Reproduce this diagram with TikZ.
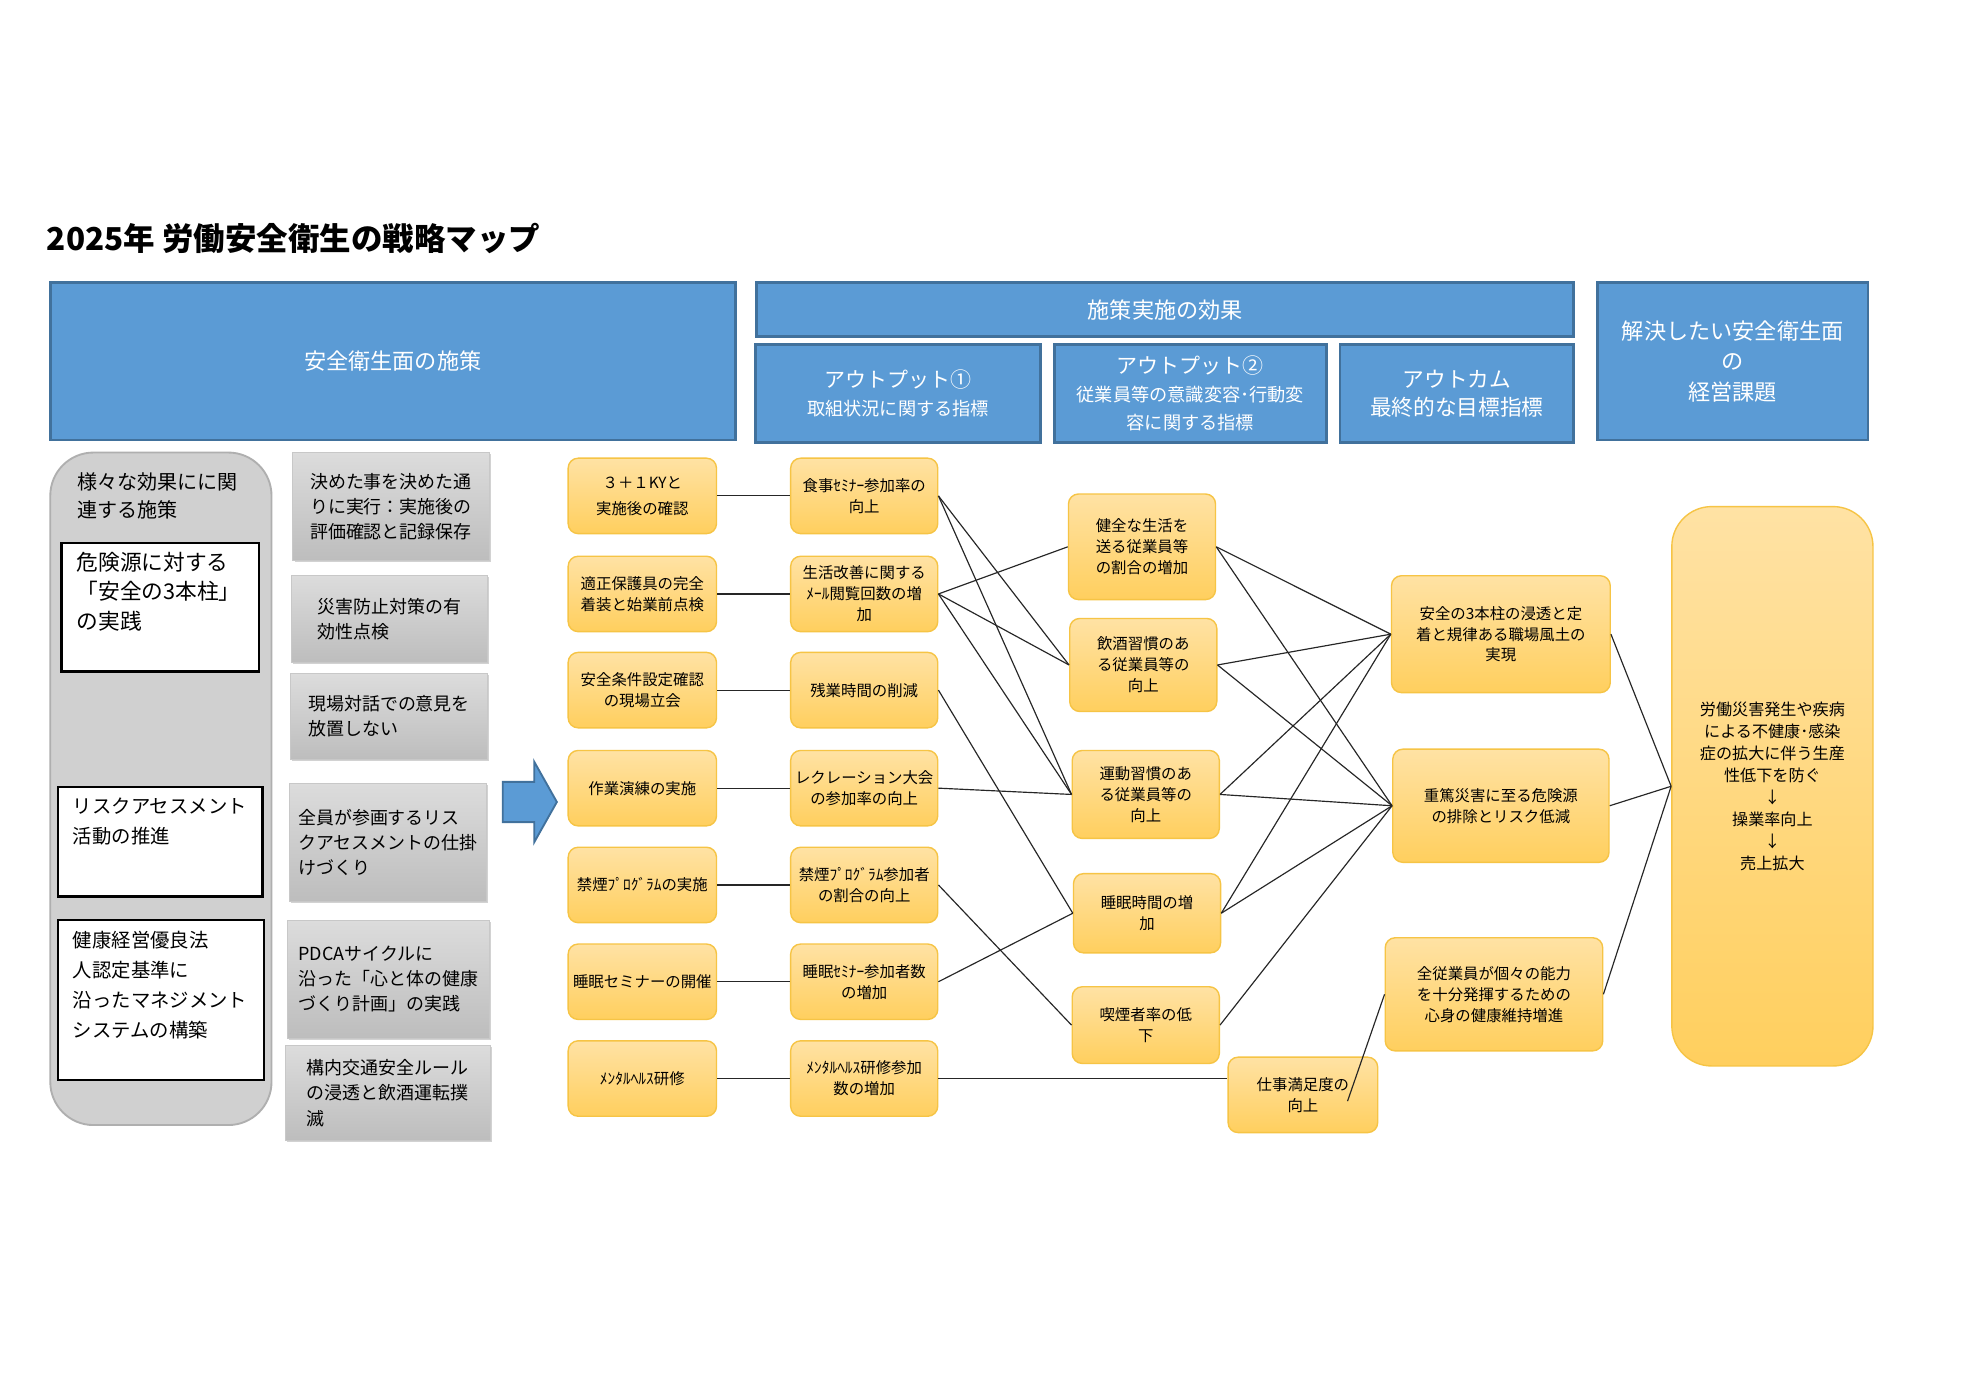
\documentclass[tikz,border=0pt]{standalone}
\usepackage{fontspec}
\setmainfont{Noto Sans CJK JP}
\usetikzlibrary{shadows}

\newlength\px
\setlength\px{0.018941cm}

\definecolor{hblue}{HTML}{5B9BD5}
\definecolor{hedge}{HTML}{41719C}
\definecolor{otop}{HTML}{FFE2A4}
\definecolor{obot}{HTML}{FFCF5E}
\definecolor{oedge}{HTML}{F6C445}
\definecolor{gtop}{HTML}{DCDCDC}
\definecolor{gbot}{HTML}{BDBDBD}
\definecolor{gedge}{HTML}{C8C8C8}
\definecolor{pfill}{HTML}{D0D0D0}
\definecolor{pedge}{HTML}{AFAFAF}
\definecolor{linkc}{HTML}{262626}

\newcommand\subfont{\fontsize{7.8}{10.8}\selectfont}

\tikzset{
  sz/.style 2 args={minimum width=#1*\px, minimum height=#2*\px},
  hbox/.style={draw=hedge, line width=1.2pt, fill=hblue, text=white, align=center, inner sep=1pt,
    font=\fontsize{9.5}{12}\selectfont},
  obox/.style={draw=oedge, line width=0.6pt, top color=otop, bottom color=obot, rounded corners=0.15cm,
    align=center, inner sep=1pt, font=\fontsize{6.6}{9}\selectfont},
  gbox/.style={draw=gedge, top color=gtop, bottom color=gbot, align=left, inner sep=1pt,
    drop shadow={opacity=0.35, shadow xshift=0.7pt, shadow yshift=-0.7pt},
    font=\fontsize{7.7}{10.8}\selectfont},
  wbox/.style={draw=black, line width=1.1pt, fill=white, inner sep=0pt},
  link/.style={draw=linkc, line width=0.5pt},
}

\begin{document}
\begin{tikzpicture}[x=0.018941cm, y=-0.018941cm]
  \fill[white] (0,0) rectangle (1568,1109);
  \useasboundingbox (0,0) rectangle (1568,1109);

  \node[anchor=west, inner sep=0pt, font=\fontsize{13.5}{16}\selectfont\bfseries] (title) at (37,190)
    {2025年 労働安全衛生の戦略マップ};

  % headers
  \node[hbox, sz={545}{125}] (hPolicy) at (312.5,287.5) {安全衛生面の施策};
  \node[hbox, sz={650}{43}] (hEffect) at (927,246.5) {施策実施の効果};
  \node[hbox, sz={227}{78}] (hOut1) at (714.5,313)
    {\fontsize{9}{12}\selectfont アウトプット①\\\subfont 取組状況に関する指標};
  \node[hbox, sz={216}{78}] (hOut2) at (947,313)
    {\fontsize{9}{11}\selectfont アウトプット②\\\subfont 従業員等の意識変容･行動変\\\subfont 容に関する指標};
  \node[hbox, sz={186}{78}] (hOutcome) at (1159,313) {\fontsize{9.3}{12}\selectfont アウトカム\\\fontsize{9.3}{12}\selectfont 最終的な目標指標};
  \node[hbox, sz={215}{125}, font=\fontsize{9.5}{13}\selectfont] (hIssue) at (1378.5,287.5) {解決したい安全衛生面\\の\\経営課題};

  % left panel
  \node[draw=pedge, fill=pfill, line width=0.8pt, rounded corners=0.65cm, sz={176}{535}] (panel) at (128,627.5) {};
  \node[anchor=north west, align=left, inner sep=0pt, font=\fontsize{8.6}{11.9}\selectfont] (panelT) at (61,376)
    {様々な効果にに関\\連する施策};
  \node[wbox, sz={157}{102}] (w1) at (127.5,483)
    {\parbox[c][88\px][t]{133\px}{\fontsize{9.3}{12.7}\selectfont 危険源に対する\\「安全の3本柱」\\の実践}};
  \node[wbox, sz={163}{87}] (w2) at (127.5,669.5)
    {\parbox[c][69\px][t]{139\px}{\fontsize{8.3}{12.7}\selectfont リスクアセスメント\\活動の推進}};
  \node[wbox, sz={164}{127}] (w3) at (128,795.5)
    {\parbox[c][109\px][t]{140\px}{\fontsize{8.3}{12.8}\selectfont 健康経営優良法\\人認定基準に\\沿ったマネジメント\\システムの構築}};

  \node[gbox, sz={156}{86}] (g1) at (311,403) {決めた事を決めた通\\りに実行：実施後の\\評価確認と記録保存};
  \node[gbox, sz={156}{69}] (g2) at (310,492.5) {災害防止対策の有\\効性点検};
  \node[gbox, sz={157}{68}] (g3) at (309.5,570) {現場対話での意見を\\放置しない};
  \node[gbox, sz={157}{94}] (g4) at (308.5,670) {全員が参画するリス\\クアセスメントの仕掛\\けづくり};
  \node[gbox, sz={160}{94}] (g5) at (309,779) {PDCAサイクルに\\沿った「心と体の健康\\づくり計画」の実践};
  \node[gbox, sz={163}{75}] (g6) at (308.5,869.5) {構内交通安全ルール\\の浸透と飲酒運転撲\\滅};

  \draw[fill=hblue, draw=hedge, line width=0.8pt] (400,622) -- (425,622) -- (425,606) -- (443,638)
    -- (425,670) -- (425,654) -- (400,654) -- cycle;

  % output 1
  \node[obox, sz={118}{60}, font=\fontsize{6.6}{11.3}\selectfont] (a1) at (511,394.5) {３＋１KYと\\実施後の確認};
  \node[obox, sz={118}{60}] (a2) at (511,472.5) {適正保護具の完全\\着装と始業前点検};
  \node[obox, sz={118}{60}] (a3) at (511,549) {安全条件設定確認\\の現場立会};
  \node[obox, sz={118}{60}] (a4) at (511,627) {作業演練の実施};
  \node[obox, sz={118}{60}] (a5) at (511,704) {禁煙ﾌﾟﾛｸﾞﾗﾑの実施};
  \node[obox, sz={118}{60}] (a6) at (511,781) {睡眠セミナーの開催};
  \node[obox, sz={118}{60}] (a7) at (511,858) {ﾒﾝﾀﾙﾍﾙｽ研修};

  \node[obox, sz={117}{60}] (b1) at (687.5,394.5) {食事ｾﾐﾅｰ参加率の\\向上};
  \node[obox, sz={117}{60}] (b2) at (687.5,472.5) {生活改善に関する\\ﾒｰﾙ閲覧回数の増\\加};
  \node[obox, sz={117}{60}] (b3) at (687.5,549) {残業時間の削減};
  \node[obox, sz={117}{60}] (b4) at (687.5,627) {レクレーション大会\\の参加率の向上};
  \node[obox, sz={117}{60}] (b5) at (687.5,704) {禁煙ﾌﾟﾛｸﾞﾗﾑ参加者\\の割合の向上};
  \node[obox, sz={117}{60}] (b6) at (687.5,781) {睡眠ｾﾐﾅｰ参加者数\\の増加};
  \node[obox, sz={117}{60}] (b7) at (687.5,858) {ﾒﾝﾀﾙﾍﾙｽ研修参加\\数の増加};

  % output 2
  \begin{scope}[every node/.append style={font=\fontsize{6.9}{9.6}\selectfont, rounded corners=0.22cm}]
    \node[obox, sz={117}{84}] (c1) at (908.5,435) {健全な生活を\\送る従業員等\\の割合の増加};
    \node[obox, sz={117}{74}] (c2) at (909.5,529) {飲酒習慣のあ\\る従業員等の\\向上};
    \node[obox, sz={117}{70}] (c3) at (911.5,632) {運動習慣のあ\\る従業員等の\\向上};
    \node[obox, sz={117}{63}] (c4) at (912.5,726.5) {睡眠時間の増\\加};
    \node[obox, sz={117}{61}] (c5) at (911.5,815.5) {喫煙者率の低\\下};
    \node[obox, sz={119}{60}] (c6) at (1036.5,871) {仕事満足度の\\向上};
  \end{scope}

  % outcome
  \begin{scope}[every node/.append style={font=\fontsize{6.7}{9.4}\selectfont, rounded corners=0.3cm}]
    \node[obox, sz={174}{93}] (d1) at (1194,504.5) {安全の3本柱の浸透と定\\着と規律ある職場風土の\\実現};
    \node[obox, sz={172}{90}] (d2) at (1194,641) {重篤災害に至る危険源\\の排除とリスク低減};
    \node[obox, sz={173}{90}] (d3) at (1188.5,791) {全従業員が個々の能力\\を十分発揮するための\\心身の健康維持増進};
  \end{scope}

  \node[obox, sz={160}{445}, rounded corners=0.6cm, font=\fontsize{6.9}{9.4}\selectfont] (e1) at (1410,625.5)
    {労働災害発生や疾病\\による不健康･感染\\症の拡大に伴う生産\\性低下を防ぐ\\↓\\操業率向上\\↓\\売上拡大};

  % links
  \foreach \from/\to in {a1/b1,a2/b2,a3/b3,a4/b4,a5/b5,a6/b6,a7/b7}
    \draw[link] (\from.east) -- (\to.west);
  \foreach \from/\to in {b1/c2,b1/c3,b2/c1,b2/c2,b2/c3,b3/c4,b4/c3,b5/c5,b6/c4}
    \draw[link] (\from.east) -- (\to.west);
  \foreach \from/\to in {c1/d1,c1/d2,c2/d1,c2/d2,c3/d1,c3/d2,c4/d1,c4/d2,c5/d2}
    \draw[link] (\from.east) -- (\to.west);
  \foreach \from in {d1,d2,d3}
    \draw[link] (\from.east) -- (e1.west);
  \draw[link] (b7.east) -- (b7.east -| c6.west);
  \coordinate (c6in) at (1072,876);
  \draw[link] (c6in) -- (d3.west);
\end{tikzpicture}
\end{document}
